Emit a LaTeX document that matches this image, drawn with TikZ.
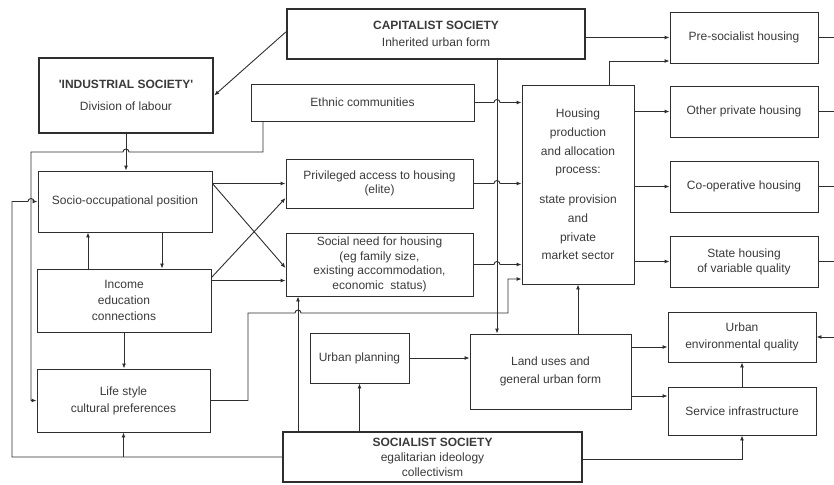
\documentclass[tikz,border=0pt]{standalone}
\usepackage{fontspec}
\setmainfont{Liberation Sans}
\usetikzlibrary{arrows.meta}
\definecolor{ink}{HTML}{3A3A3A}
\definecolor{wire}{HTML}{2E2E2E}
\begin{document}
\begin{tikzpicture}[x=1pt,y=-1pt,
  box/.style={draw=wire, text=ink, line width=0.9pt, align=center, inner sep=2pt,
    font=\fontsize{12}{16}\selectfont},
  heavy/.style={box, line width=2.4pt},
  arr/.style={draw=wire, line width=0.9pt, -{Latex[length=5pt,width=4pt]}},
  link/.style={draw=wire, line width=0.9pt}]
\useasboundingbox (0,0) rectangle (834,484);

% societies
\node[heavy, minimum width=298pt, minimum height=50pt] (cap) at (436,34) {\textbf{CAPITALIST SOCIETY}\\[1pt]Inherited urban form};
\node[heavy, minimum width=174pt, minimum height=75pt] (ind) at (126,95.5) {\textbf{\textquotesingle INDUSTRIAL SOCIETY\textquotesingle}\\[6pt]Division of labour};
\node[heavy, minimum width=299pt, minimum height=50pt, font=\fontsize{12}{15}\selectfont] (soc) at (432.5,457) {\textbf{SOCIALIST SOCIETY}\\egalitarian ideology\\collectivism};

% left and middle boxes
\node[box, minimum width=223pt, minimum height=37pt] (eth) at (362.5,102.5) {Ethnic communities};
\node[box, minimum width=174pt, minimum height=61pt] (socio) at (125,201.5) {Socio-occupational position};
\node[box, minimum width=174pt, minimum height=63pt] (inc) at (124,300.5) {Income\\education\\connections};
\node[box, minimum width=173pt, minimum height=63pt, font=\fontsize{12}{17}\selectfont] (life) at (123.5,400.5) {Life style\\cultural preferences};
\node[box, minimum width=187pt, minimum height=49pt, font=\fontsize{12}{14}\selectfont] (priv) at (379.5,183.5) {Privileged access to housing\\(elite)};
\node[box, minimum width=187pt, minimum height=63pt, font=\fontsize{12}{14.5}\selectfont] (need) at (379.5,264.5) {Social need for housing\\(eg family size,\\existing accommodation,\\economic\ \ status)};
\node[box, minimum width=99pt, minimum height=50pt] (plan) at (359.5,358) {Urban planning};
\node[box, minimum width=112pt, minimum height=199pt, font=\fontsize{12}{18.7}\selectfont] (hp) at (578,184.5) {Housing\\production\\and allocation\\process:\\[11pt]state provision\\and\\private\\market sector};
\node[box, minimum width=161pt, minimum height=75pt, font=\fontsize{12}{18}\selectfont] (land) at (550.5,371.5) {Land uses and\\general urban form};

% right column
\node[box, minimum width=148pt, minimum height=51pt] (pre) at (744,37.5) {Pre-socialist housing};
\node[box, minimum width=148pt, minimum height=51pt] (oth) at (744,111.5) {Other private housing};
\node[box, minimum width=148pt, minimum height=51pt] (coop) at (744,186.5) {Co-operative housing};
\node[box, minimum width=148pt, minimum height=51pt, font=\fontsize{12}{15}\selectfont] (state) at (744,261.5) {State housing\\of variable quality};
\node[box, minimum width=148pt, minimum height=50pt, font=\fontsize{12}{17}\selectfont] (env) at (742,337) {Urban\\environmental quality};
\node[box, minimum width=148pt, minimum height=48pt] (serv) at (742,411) {Service infrastructure};

\coordinate (vcap) at (497,0);
\coordinate (vsoc) at (298,0);
\coordinate (vin) at (31,0);
\coordinate (vout) at (12,0);
\coordinate (yeth) at (0,152);
\coordinate (rim) at (834,0);
\coordinate (kink1) at (248,313);
\coordinate (kink2) at (508,313);

% capitalist society
\draw[arr] ([yshift=2pt]cap.west) -- (ind.east);
\draw[arr] (cap.east |- pre.west) -- (pre.west);
\draw[arr] (cap.south -| vcap) -- (land.north -| vcap);
\draw[arr] (eth.east) -- ([xshift=-3pt]eth.east -| vcap) arc[start angle=180,end angle=0,radius=3pt] -- (eth.east -| hp.west);
\draw[arr] (priv.east) -- ([xshift=-3pt]priv.east -| vcap) arc[start angle=180,end angle=0,radius=3pt] -- (priv.east -| hp.west);
\draw[arr] (need.east) -- ([xshift=-3pt]need.east -| vcap) arc[start angle=180,end angle=0,radius=3pt] -- (need.east -| hp.west);

% housing process to the housing types
\draw[arr] ([xshift=31pt]hp.north) |- ([yshift=-23.5pt]pre.west);
\draw[arr] (hp.east |- oth.west) -- (oth.west);
\draw[arr] (hp.east |- coop.west) -- (coop.west);
\draw[arr] (hp.east |- state.west) -- (state.west);
\foreach \h in {pre,oth,coop,state}
  \draw[link] (\h.east) -- (\h.east -| rim);
\draw[arr] (env.east -| rim) -- (env.east);

% left column
\draw[arr] (ind.south) -- (ind.south |- socio.north);
\draw[arr] ([xshift=-99.5pt]eth.south) |- ([xshift=3pt]ind.south |- yeth) arc[start angle=0,end angle=180,radius=3pt] -- (vin |- yeth) |- (life.west);
\draw[arr] ([xshift=37pt]socio.south) -- ([xshift=37pt]socio.south |- inc.north);
\draw[arr] ([xshift=-36pt]inc.north) -- ([xshift=-36pt]inc.north |- socio.south);
\draw[arr] (inc.south) -- (inc.south |- life.north);
\draw[arr] (socio.east |- priv.west) -- (priv.west);
\draw[arr] (socio.east |- priv.west) -- ([yshift=-3.5pt]need.west);
\draw[arr] ([yshift=-9pt]inc.north east) -- ([yshift=-14.5pt]priv.west);
\draw[arr] ([yshift=-12pt]inc.north east) -- ([yshift=-12pt]inc.north east -| need.west);
\draw[arr] (life.east) -| (kink1) -- ([xshift=-3pt]kink1 -| vsoc) arc[start angle=180,end angle=0,radius=3pt] -- (kink2) |- ([yshift=-94.5pt]hp.west);

% socialist society
\draw[arr] (soc.west) -| (vout |- socio.west) -- ([xshift=-3pt]vin |- socio.west) arc[start angle=180,end angle=0,radius=3pt] -- (socio.west);
\draw[arr] (soc.west -| life.south) -- (life.south);
\draw[arr] (soc.north -| vsoc) -- (need.south -| vsoc);
\draw[arr] (soc.north -| plan.south) -- (plan.south);
\draw[arr] ([yshift=-2pt]soc.east) -| (serv.south);

% land uses
\draw[arr] (plan.east) -- (plan.east -| land.west);
\draw[arr] (land.north -| hp.south) -- (hp.south);
\draw[arr] ([yshift=24.5pt]land.east) -- ([yshift=24.5pt]land.east -| env.west);
\draw[arr] ([yshift=-24.5pt]land.east) -- ([yshift=-24.5pt]land.east -| serv.west);
\draw[arr] (serv.north) -- (env.south);
\end{tikzpicture}
\end{document}
